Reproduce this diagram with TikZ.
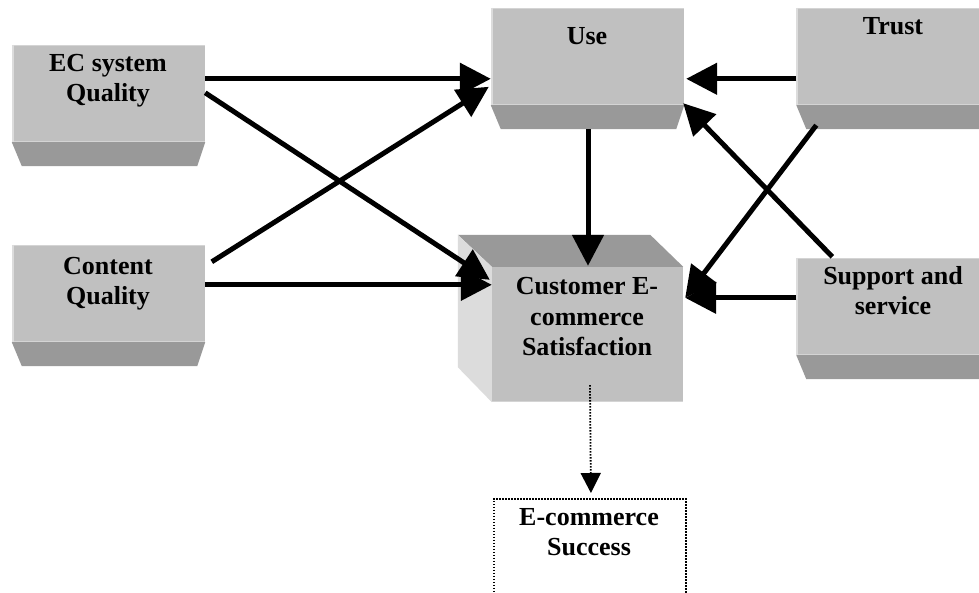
\documentclass[tikz,border=0pt]{standalone}
\usepackage{fontspec}
\setmainfont{Liberation Serif}
\usetikzlibrary{arrows.meta,calc}
\definecolor{facegray}{HTML}{C0C0C0}
\definecolor{bevelgray}{HTML}{999999}
\definecolor{sidegray}{HTML}{DCDCDC}
\definecolor{edgegray}{HTML}{D4D4D4}
\tikzset{
  face/.style={rectangle, fill=facegray, inner sep=0pt, minimum width=193pt, minimum height=97pt},
  lbl/.style={anchor=base, align=center, inner sep=0pt, font=\fontsize{26}{30}\selectfont\bfseries},
  conn/.style={line width=5pt, -{Triangle[length=31pt,width=31pt]}},
  dotconn/.style={line width=1.8pt, dash pattern=on 1.5pt off 1.5pt, -{Triangle[length=20pt,width=20pt]}},
}
\begin{document}
\begin{tikzpicture}[x=1pt,y=-1pt]
\useasboundingbox (0,0) rectangle (979,593);
\clip (0,0) rectangle (979,593);
\fill[white] (0,0) rectangle (979,593);

% plain boxes (face + bevel)
\node[face] (ec) at (108.5,93.5) {};
\node[face] (content) at (108.5,293.5) {};
\node[face] (use) at (587.5,56.5) {};
\node[face] (trust) at (893,56.5) {};
\node[face] (support) at (893,306.5) {};
\foreach \b in {ec,content,use,trust,support}{
  \fill[bevelgray] (\b.south west) -- (\b.south east) -- ($(\b.south east)+(-8,24)$) -- ($(\b.south west)+(10,24)$) -- cycle;
  \draw[edgegray, line width=1.5pt] ($(\b.north west)+(0,0.75)$) -- ($(\b.north east)+(0,0.75)$);
  \draw[edgegray, line width=1.5pt] ($(\b.south west)+(0,-0.75)$) -- ($(\b.south east)+(0,-0.75)$);
  \draw[sidegray, line width=2pt] ($(\b.north west)+(1,0)$) -- ($(\b.south west)+(1,0)$);
}

% cube
\node[rectangle, fill=facegray, inner sep=0pt, minimum width=191pt, minimum height=135pt] (cust) at (587.5,334.5) {};
\fill[bevelgray] (cust.north west) -- ($(cust.north west)+(-34,-32)$) -- ($(cust.north east)+(-33,-32)$) -- (cust.north east) -- cycle;
\fill[sidegray] (cust.north west) -- ($(cust.north west)+(-34,-32)$) -- ($(cust.south west)+(-34,-35)$) -- (cust.south west) -- cycle;
\draw[edgegray, line width=1.5pt] ($(cust.south west)+(0,-0.75)$) -- ($(cust.south east)+(0,-0.75)$);

% success box
\node[rectangle, draw, line width=1.8pt, dash pattern=on 1.5pt off 1.5pt, inner sep=0pt, minimum width=192pt, minimum height=130pt, anchor=north west] (succ) at (493,498) {};

% labels (anchor = baseline of last line)
\node[lbl] (ectxt) at (108,102) {EC system\\Quality};
\node[lbl] (contenttxt) at (108,305) {Content\\Quality};
\node[lbl] (usetxt) at (587,45) {Use};
\node[lbl] (trusttxt) at (893,35) {Trust};
\node[lbl] (supporttxt) at (893,315) {Support and\\service};
\node[lbl] (custtxt) at (587,355) {Customer E-\\commerce\\Satisfaction};
\node[lbl] (succtxt) at (589,555) {E-commerce\\Success};

% connectors
\draw[conn] ($(ec.north east)+(0,34)$) -- ($(use.north west)+(0,71)$);
\draw[conn] ($(ec.north east)+(0,48)$) -- ($(cust.north west)+(-2,13)$);
\draw[conn] ($(content.north west)+(200,17)$) -- ($(use.north west)+(-2,79)$);
\draw[conn] ($(content.north east)+(0,40)$) -- ($(cust.north west)+(0,18)$);
\draw[conn] ($(use.south)+(0.5,24)$) -- ($(cust.north)+(0.5,-1)$);
\draw[conn] ($(trust.north west)+(0,71)$) -- ($(use.north east)+(2,71)$);
\draw[conn] ($(trust.south west)+(20,20)$) -- ($(cust.north east)+(2,31)$);
\draw[conn] ($(support.north west)+(36,-1)$) -- ($(use.south east)+(-1,-2)$);
\draw[conn] ($(support.north west)+(0,40)$) -- ($(cust.north east)+(2,31)$);
\draw[dotconn] ($(cust.south)+(2.5,-17)$) -- ($(succ.north)+(1,-5)$);
\end{tikzpicture}
\end{document}
